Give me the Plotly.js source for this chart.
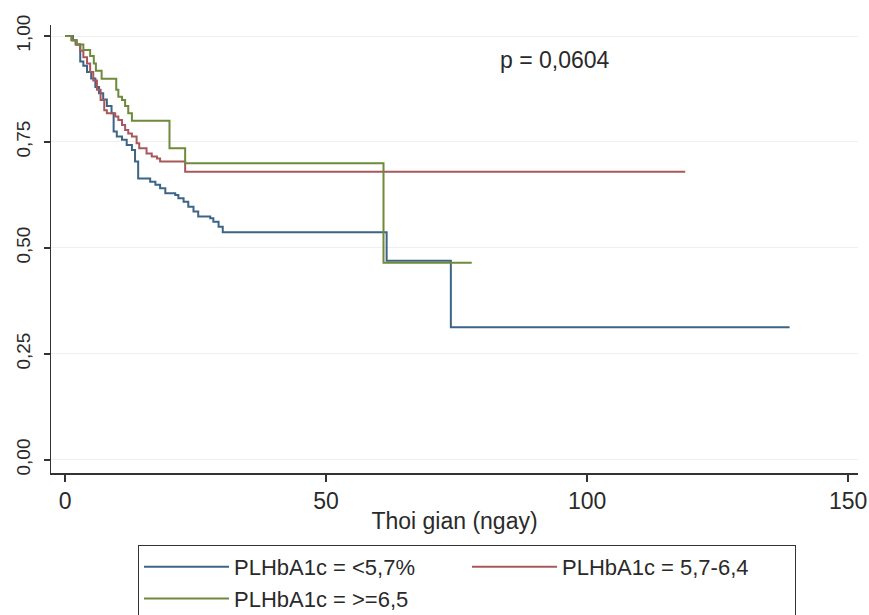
<!DOCTYPE html>
<html>
<head>
<meta charset="utf-8">
<script src="https://cdn.plot.ly/plotly-3.0.1.min.js"></script>
<style>html,body{margin:0;padding:0;background:#fff;}#chart{width:869px;height:615px;}</style>
</head>
<body>
<div id="chart"></div>
<script>
// Kaplan-Meier survival by PLHbA1c group (time in days)
const groupNames = ["PLHbA1c = <5,7%", "PLHbA1c = 5,7-6,4", "PLHbA1c = >=6,5"];

const lowTime = [0, 1.5, 2.2, 2.9, 3.5, 4.2, 5.0, 5.8, 6.5, 7.3, 8.0, 8.9, 9.3, 9.9, 10.9, 11.8, 12.8, 13.4, 14.0, 16.3, 17.3, 18.2, 19.2, 21.1, 21.7, 22.7, 23.6, 24.6, 25.5, 27.8, 28.4, 29.4, 30.2, 61.6, 73.9, 138.8];
const lowSurv = [1.0, 0.99, 0.98, 0.94, 0.93, 0.915, 0.90, 0.88, 0.865, 0.85, 0.835, 0.818, 0.775, 0.763, 0.755, 0.743, 0.731, 0.704, 0.664, 0.656, 0.649, 0.641, 0.629, 0.625, 0.617, 0.609, 0.597, 0.586, 0.574, 0.570, 0.562, 0.550, 0.537, 0.470, 0.313, 0.313];

const midTime = [0, 1.2, 2.0, 2.9, 3.5, 4.2, 4.8, 5.4, 6.1, 6.8, 7.5, 8.0, 9.6, 10.2, 10.9, 11.5, 12.1, 12.8, 13.7, 14.2, 15.6, 16.6, 17.6, 18.2, 23.0, 118.8];
const midSurv = [1.0, 0.99, 0.98, 0.965, 0.95, 0.935, 0.915, 0.895, 0.873, 0.849, 0.825, 0.818, 0.810, 0.802, 0.790, 0.778, 0.770, 0.763, 0.747, 0.735, 0.723, 0.716, 0.711, 0.704, 0.680, 0.680];

const highTime = [0, 1.3, 2.2, 3.5, 4.8, 5.5, 5.9, 7.0, 9.8, 10.2, 10.9, 11.5, 12.1, 12.8, 20.0, 23.0, 61.0, 77.9];
const highSurv = [1.0, 0.99, 0.98, 0.967, 0.953, 0.935, 0.918, 0.899, 0.873, 0.857, 0.849, 0.835, 0.818, 0.80, 0.735, 0.70, 0.465, 0.465];

const yTickVals = [0, 0.25, 0.5, 0.75, 1];
const yTickText = ["0,00", "0,25", "0,50", "0,75", "1,00"];
const xTickVals = [0, 50, 100, 150];
const pValueText = "p = 0,0604";

const colors = ["#3c6487", "#a8585c", "#6e8a3a"];
const FONT = "'Liberation Sans', Arial, sans-serif";

function km(t, s, name, color) {
  return {x: t, y: s, name: name, type: "scatter", mode: "lines",
          line: {shape: "hv", color: color, width: 2}, hoverinfo: "skip"};
}

const data = [
  km(lowTime, lowSurv, groupNames[0], colors[0]),
  km(midTime, midSurv, groupNames[1], colors[1]),
  km(highTime, highSurv, groupNames[2], colors[2])
];

const layout = {
  width: 869, height: 615,
  margin: {l: 51, r: 11, t: 25, b: 142},
  paper_bgcolor: "#ffffff", plot_bgcolor: "#ffffff",
  font: {family: FONT, size: 23, color: "#2a2a2a"},
  showlegend: true,
  xaxis: {
    range: [-2.7, 151.9], tickvals: xTickVals, ticks: "outside", ticklen: 7, tickwidth: 1.3,
    tickcolor: "#333", showline: true, linecolor: "#333", linewidth: 1.5, showgrid: false,
    zeroline: false, automargin: false,
    title: {text: "Thoi gian (ngay)", standoff: 0, font: {size: 23}},
    tickfont: {size: 23}
  },
  yaxis: {
    range: [-0.031, 1.026], tickvals: yTickVals, ticktext: yTickText, tickangle: -90,
    ticks: "outside", ticklen: 6, tickwidth: 1.3, tickcolor: "#333", showline: true,
    linecolor: "#333", linewidth: 1.5, showgrid: true, gridcolor: "#efefef", gridwidth: 1,
    zeroline: false, automargin: false, ticklabelstandoff: 6, tickfont: {size: 19}
  },
  legend: {
    orientation: "h", xref: "paper", x: 0.1078, xanchor: "left",
    yref: "container", y: 0.1138, yanchor: "top",
    bordercolor: "#333", borderwidth: 1, bgcolor: "#fff",
    font: {size: 22}, itemwidth: 85, entrywidth: 228, traceorder: "normal"
  },
  annotations: [{
    xref: "x", yref: "y", x: 93.9, y: 0.943, text: pValueText, showarrow: false,
    xanchor: "center", yanchor: "middle", font: {size: 23, color: "#2a2a2a"}
  }]
};

Plotly.newPlot("chart", data, layout, {displayModeBar: false, staticPlot: true});
</script>
</body>
</html>
